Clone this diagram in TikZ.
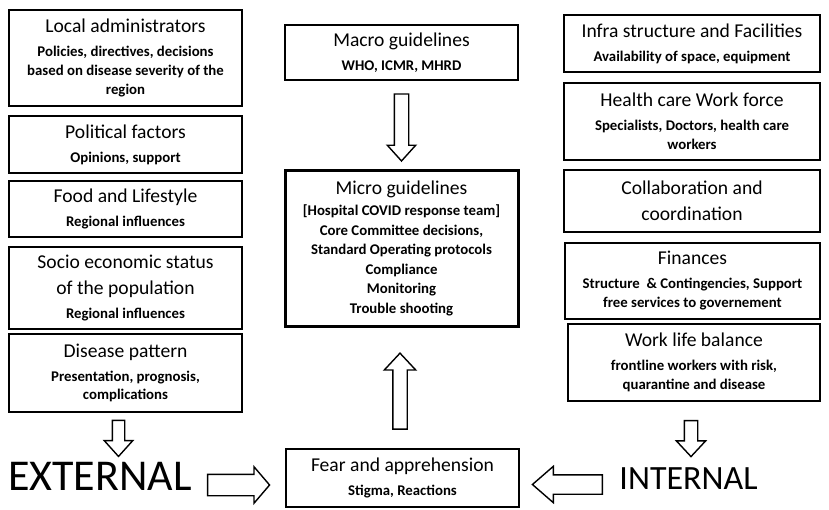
\documentclass[tikz,border=0pt]{standalone}
\usepackage{fontspec}
\setmainfont{Carlito}
\usetikzlibrary{shapes.arrows}

\newcommand{\hd}[1]{{\fontsize{19.6}{24}\selectfont\mdseries #1}}

\begin{document}
\begin{tikzpicture}[x=1pt,y=-1pt,
    box/.style={draw,line width=2pt,align=center,inner sep=2pt,
        font=\fontsize{14.8}{18}\selectfont\bfseries},
    blockarrow/.style={draw,line width=1.4pt,single arrow,inner xsep=0pt,
        single arrow head indent=0pt,single arrow tip angle=86}]
    \useasboundingbox (0,0) rectangle (829,510);
    % external factors
    \node[box,minimum width=233pt,minimum height=96pt] (localadm) at (125.5,58) {\hd{Local administrators}\\[6pt]Policies, directives, decisions\\[1pt]based on disease severity of the\\[1pt]region};
    \node[box,minimum width=233pt,minimum height=57pt] (political) at (125.5,144.5) {\hd{Political factors}\\[6pt]Opinions, support};
    \node[box,minimum width=233pt,minimum height=56pt] (food) at (125.5,209) {\hd{Food and Lifestyle}\\[6pt]Regional influences};
    \node[box,minimum width=233pt,minimum height=82pt] (socio) at (125.5,288) {\hd{Socio economic status}\\[8pt]\hd{of the population}\\[6pt]Regional influences};
    \node[box,minimum width=233pt,minimum height=78pt] (disease) at (125.5,373) {\hd{Disease pattern}\\[6pt]Presentation, prognosis,\\complications};
    \node[font=\fontsize{44}{48}\selectfont] (external) at (100,476) {EXTERNAL};
    % guidelines
    \node[box,minimum width=233pt,minimum height=55pt] (macro) at (401.5,53) {\hd{Macro guidelines}\\[6pt]WHO, ICMR, MHRD};
    \node[box,line width=3pt,minimum width=233pt,minimum height=155pt] (micro) at (401.5,248.5) {\hd{Micro guidelines}\\[3pt]{[}Hospital COVID response team]\\[1.5pt]Core Committee decisions,\\[1.5pt]Standard Operating protocols\\[1.5pt]Compliance\\[1.5pt]Monitoring\\[1.5pt]Trouble shooting};
    \node[box,minimum width=233pt,minimum height=58pt] (fear) at (402.5,478) {\hd{Fear and apprehension}\\[6pt]Stigma, Reactions};
    % internal factors
    \node[box,minimum width=256pt,minimum height=57pt] (infra) at (692,43.5) {\hd{Infra structure and Facilities}\\[6pt]Availability of space, equipment};
    \node[box,minimum width=256pt,minimum height=77pt] (workforce) at (692,121.5) {\hd{Health care Work force}\\[6pt]Specialists, Doctors, health care\\[1pt]workers};
    \node[box,minimum width=256pt,minimum height=62pt] (collab) at (692,201) {\hd{Collaboration and}\\[8pt]\hd{coordination}};
    \node[box,minimum width=255pt,minimum height=76pt] (finance) at (692.5,281) {\hd{Finances}\\[6pt]Structure\ \ \& Contingencies, Support\\[1pt]free services to governement};
    \node[box,minimum width=252pt,minimum height=77pt] (worklife) at (694,362.5) {\hd{Work life balance}\\[6pt]frontline workers with risk,\\[1pt]quarantine and disease};
    \node[font=\fontsize{34}{38}\selectfont] (internal) at (688.5,478.5) {INTERNAL};
    % block arrows
    \node[blockarrow,rotate=-90,minimum height=67pt,inner ysep=6.5pt,single arrow head extend=7pt,single arrow tip angle=84] (macroarrow) at (401.5,123.5) {};
    \node[blockarrow,rotate=90,minimum height=76pt,inner ysep=6.5pt,single arrow head extend=8.5pt] (fineup) at (400,395) {};
    \node[blockarrow,rotate=-90,minimum height=36pt,inner ysep=5.5pt,single arrow head extend=8pt,single arrow tip angle=84] (extdown) at (118.5,435) {};
    \node[blockarrow,rotate=-90,minimum height=36pt,inner ysep=6pt,single arrow head extend=8pt] (intdown) at (691,435) {};
    \node[blockarrow,minimum height=62pt,inner ysep=10pt,single arrow head extend=7.5pt,single arrow tip angle=99] (extarrow) at (234,485) {};
    \node[blockarrow,rotate=180,minimum height=70pt,inner ysep=9pt,single arrow head extend=8.5pt,single arrow tip angle=82] (intarrow) at (573,484.5) {};
\end{tikzpicture}
\end{document}
